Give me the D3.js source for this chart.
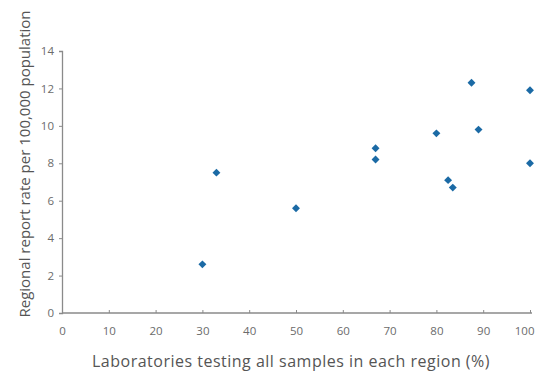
<!DOCTYPE html>
<html>
<head>
<meta charset="utf-8">
<script src="https://cdn.jsdelivr.net/npm/d3@7"></script>
<style>
  body { margin: 0; background: #fff; }
  text { font-family: "Open Sans", "DejaVu Sans", sans-serif; }
</style>
</head>
<body>
<div id="chart"></div>
<script>
// laboratories testing all samples (%) vs regional report rate
const labsPct = [30, 33, 50, 67, 67, 80, 82.5, 83.5, 87.5, 89, 100, 100];
const reportRate = [2.6, 7.5, 5.6, 8.8, 8.2, 9.6, 7.1, 6.7, 12.3, 9.8, 11.9, 8.0];
const xTicks = [0, 10, 20, 30, 40, 50, 60, 70, 80, 90, 100];
const yTicks = [0, 2, 4, 6, 8, 10, 12, 14];

const W = 538, H = 373;
const m = { left: 62, right: 8, top: 51, bottom: 60 };

const svg = d3.select("#chart").append("svg").attr("width", W).attr("height", H);

const x = d3.scaleLinear().domain([0, 100]).range([m.left, 530]);
const y = d3.scaleLinear().domain([0, 14]).range([313, m.top]);

const axisCol = "#8a8a8a", textCol = "#6b6b6b";

// y axis
const gy = svg.append("g").attr("transform", `translate(${m.left},0)`)
  .call(d3.axisLeft(y).tickValues(yTicks).tickSize(3).tickPadding(5).tickFormat(d3.format("d")));
// x axis
const gx = svg.append("g").attr("transform", "translate(0,313)")
  .call(d3.axisBottom(x).tickValues(xTicks).tickSize(-3).tickPadding(14).tickFormat(d3.format("d")));

[gx, gy].forEach(g => {
  g.select(".domain").attr("stroke", axisCol).attr("stroke-width", 1.3);
  g.selectAll(".tick line").attr("stroke", axisCol);
  g.selectAll(".tick text").attr("fill", textCol).style("font-size", "11.5px");
});
gx.select(".domain").attr("d", `M${m.left},0H532`);
// keep the last label inside the frame
gx.selectAll(".tick text").filter(d => d === 100).attr("text-anchor", "end").attr("dx", 4);

// points
const pts = labsPct.map((v, i) => [v, reportRate[i]]);
svg.append("g").selectAll("path").data(pts).enter().append("path")
  .attr("transform", d => `translate(${x(d[0])},${y(d[1])})`)
  .attr("d", d3.symbol(d3.symbolDiamond2, 40)())
  .attr("fill", "#1b6aa5");

// axis titles
svg.append("text")
  .attr("x", 291).attr("y", 367)
  .attr("text-anchor", "middle")
  .attr("fill", "#555").style("font-size", "16px").style("letter-spacing", "0.5px")
  .text("Laboratories testing all samples in each region (%)");

svg.append("text")
  .attr("transform", "translate(30,164) rotate(-90)")
  .attr("text-anchor", "middle")
  .attr("fill", "#555").style("font-size", "15px")
  .text("Regional report rate per 100,000 population");
</script>
</body>
</html>
